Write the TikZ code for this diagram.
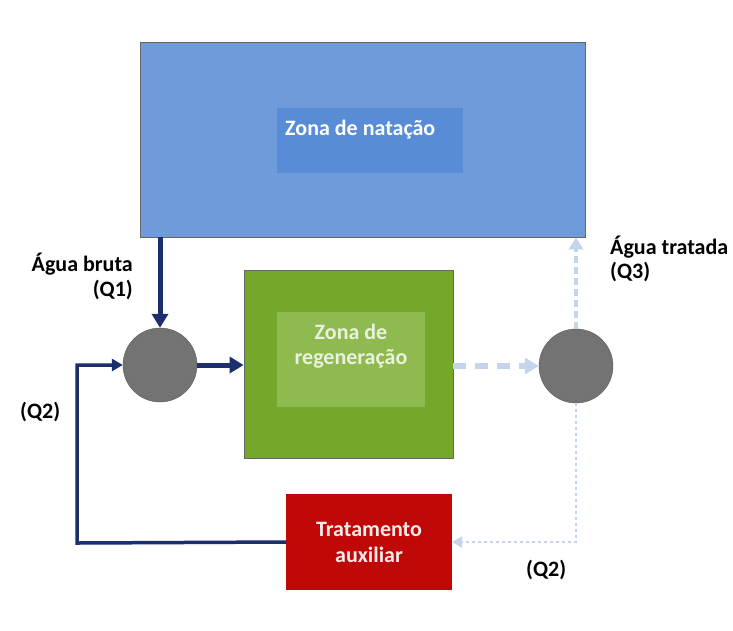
\documentclass[tikz,border=0pt]{standalone}
\usepackage{fontspec}
\setmainfont{Carlito}
\usetikzlibrary{arrows.meta}
\definecolor{natblue}{RGB}{111,155,218}
\definecolor{natinner}{RGB}{88,140,214}
\definecolor{regreen}{RGB}{117,168,42}
\definecolor{reginner}{RGB}{142,186,80}
\definecolor{auxred}{RGB}{192,8,8}
\definecolor{navy}{RGB}{28,46,110}
\definecolor{paleblue}{RGB}{196,212,234}
\definecolor{mixgray}{RGB}{115,115,115}
\tikzstyle{zone} = [draw=black!60, line width=0.8pt, inner sep=0pt]
\tikzstyle{inner} = [inner sep=0pt, text=white, font=\bfseries, align=center]
\tikzstyle{mix} = [draw=black!65, circle, fill=mixgray, minimum size=74pt, inner sep=0pt]
\tikzstyle{lbl} = [font=\bfseries, inner sep=0pt]
\tikzstyle{flow} = [draw=navy, line width=5pt, -{Triangle[length=14pt, width=16pt]}]
\tikzstyle{back} = [draw=paleblue, line width=4pt, dashed, -{Triangle[length=14pt, width=16pt]}]

\begin{document}
\begin{tikzpicture}[x=1pt, y=-1pt]
                    \fontsize{22}{26}\selectfont
                    \useasboundingbox[fill=white] (0,0) rectangle (733,630);
                    % zones
                    \node[zone, fill=natblue, minimum width=445pt, minimum height=195pt] (nat) at (362.5, 139.5) {};
                    \node[fill=natinner, minimum width=186pt, minimum height=65pt, inner sep=0pt] (natin) at (370, 140.5) {};
                    \node[inner, anchor=west] (natt) at (285, 130) {Zona de natação};
                    \node[zone, fill=regreen, minimum width=209pt, minimum height=188pt] (reg) at (348.5, 364) {};
                    \node[fill=reginner, minimum width=148pt, minimum height=95pt, inner sep=0pt] (regin) at (351, 359.5) {};
                    \node[inner, text=white!85!regreen, font=\bfseries\linespread{0.95}\selectfont] (regt) at (351, 346) {Zona de\\regeneração};
                    \node[fill=auxred, minimum width=166pt, minimum height=96pt, inner sep=0pt] (aux) at (369, 542) {};
                    \node[inner, text=white!92!auxred] (auxt) at (369, 542) {Tratamento\\auxiliar};
                    % mixing points
                    \node[mix] (m1) at (160, 365) {};
                    \node[mix] (m2) at (576, 366) {};
                    \coordinate (c1) at (77, 543);
                    \coordinate (c2) at (77, 365);
                    \coordinate (c3) at (576, 542);
                    % flows
                    \draw[flow] (nat.south -| m1) -- (m1.north);
                    \draw[flow] (m1.east) -- (reg.west |- m1);
                    \draw[flow, line width=3.5pt, -{Triangle[length=11pt, width=12pt]}] (aux.west) -- (c1) -- (c2) -- (m1.west);
                    \draw[back, line width=5.5pt, dash pattern=on 13pt off 9pt] (reg.east |- m2) -- (m2.west);
                    \draw[back, dash pattern=on 7pt off 4pt, -{Triangle[length=12pt, width=14pt]}] (m2.north) -- (nat.south -| m2);
                    \draw[back, line width=2.5pt, dash pattern=on 3pt off 3pt, -{Triangle[length=10pt, width=11pt]}] (m2.south) -- (c3) -- (aux.east |- c3);
                    % labels
                    \node[lbl, anchor=east] (q1a) at (133, 264) {Água bruta};
                    \node[lbl, anchor=east] (q1b) at (133, 290) {(Q1)};
                    \node[lbl, anchor=west] (q3a) at (610, 247) {Água tratada};
                    \node[lbl, anchor=west] (q3b) at (610, 272) {(Q3)};
                    \node[lbl, anchor=west] (q2a) at (20, 412) {(Q2)};
                    \node[lbl, anchor=west] (q2b) at (526, 570) {(Q2)};
                \end{tikzpicture}
\end{document}
